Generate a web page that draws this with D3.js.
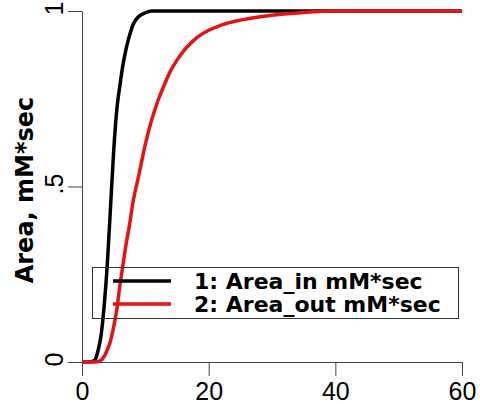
<!DOCTYPE html>
<html>
<head>
<meta charset="utf-8">
<script src="https://cdn.jsdelivr.net/npm/d3@7"></script>
<style>
  body { margin: 0; background: #fff; }
  svg { display: block; font-family: 'DejaVu Sans', sans-serif; }
</style>
</head>
<body>
<svg id="chart" width="480" height="404"></svg>
<script>
// values
const timeIn = [0, 1, 2, 2.5, 3, 3.5, 4, 4.5, 5, 5.5, 6, 6.5, 7, 7.5, 8, 8.5, 9, 10, 11, 12, 15, 20, 30, 40, 50, 60]
const areaIn = [0, 0, 0.005, 0.03, 0.075, 0.16, 0.28, 0.44, 0.6, 0.72, 0.79, 0.85, 0.895, 0.93, 0.958, 0.975, 0.985, 0.995, 1, 1, 1, 1, 1, 1, 1, 1]

const timeOut = [0, 2, 3, 4, 4.5, 5, 5.5, 6, 6.5, 7, 7.5, 8, 9, 10, 11, 12, 13, 14, 15, 16, 17, 18, 20, 22, 25, 30, 35, 40, 50, 60]
const areaOut = [0, 0, 0.005, 0.035, 0.06, 0.1, 0.15, 0.22, 0.28, 0.34, 0.39, 0.45, 0.535, 0.62, 0.69, 0.745, 0.79, 0.83, 0.86, 0.885, 0.905, 0.922, 0.945, 0.96, 0.974, 0.988, 0.996, 1, 1, 1]

const xTicks = [0, 20, 40, 60]
const yTicks = [0, 0.5, 1]
const yTickLabels = ['0', '.5', '1']
const seriesNames = ['1: Area_in mM*sec', '2: Area_out mM*sec']
const seriesColors = ['#000000', '#e31414']
const yTitle = 'Area, mM*sec'

const svg = d3.select('#chart')

const x = d3.scaleLinear().domain([0, 60]).range([82, 462])
const y = d3.scaleLinear().domain([0, 1]).range([362, 11])

// x axis
const gx = svg.append('g')
  .attr('transform', `translate(0,${y(0)})`)
  .call(d3.axisBottom(x).tickValues(xTicks).tickSize(14).tickSizeOuter(0).tickFormat(d3.format('d')))
gx.select('.domain').attr('stroke', '#444')
gx.selectAll('.tick line').attr('stroke', '#444')
gx.selectAll('.tick text')
  .attr('y', 20)
  .attr('dy', '0.71em')
  .attr('fill', '#000')
  .style('font-size', '25px')

// y axis, labels turned on their side
const gy = svg.append('g')
  .attr('transform', `translate(${x(0)},0)`)
  .call(d3.axisLeft(y).tickValues(yTicks).tickSize(14).tickSizeOuter(0).tickFormat((d, i) => yTickLabels[i]))
gy.select('.domain').attr('stroke', '#444')
gy.selectAll('.tick line').attr('stroke', '#444')
gy.selectAll('.tick text')
  .attr('transform', 'rotate(-90)')
  .attr('x', 3)
  .attr('y', -19)
  .attr('dy', 0)
  .attr('text-anchor', 'middle')
  .attr('fill', '#000')
  .style('font-size', '25px')

svg.append('text')
  .attr('transform', 'translate(33,190) rotate(-90)')
  .attr('text-anchor', 'middle')
  .style('font-size', '24px')
  .style('font-weight', 'bold')
  .text(yTitle)

// curves
const line = d3.line()
  .x(d => x(d[0]))
  .y(d => y(d[1]))
  .curve(d3.curveMonotoneX)

const series = [
  d3.zip(timeIn, areaIn),
  d3.zip(timeOut, areaOut)
]

svg.selectAll('path.curve')
  .data(series)
  .enter()
  .append('path')
  .attr('class', 'curve')
  .attr('d', line)
  .attr('fill', 'none')
  .attr('stroke', (d, i) => seriesColors[i])
  .attr('stroke-width', 3.5)
  .attr('stroke-linejoin', 'round')

// legend
const legend = svg.append('g')
legend.append('rect')
  .attr('x', 92.5)
  .attr('y', 267.5)
  .attr('width', 366)
  .attr('height', 51)
  .attr('fill', 'none')
  .attr('stroke', '#333')

const rows = legend.selectAll('g.row')
  .data(seriesNames)
  .enter()
  .append('g')
  .attr('class', 'row')
  .attr('transform', (d, i) => `translate(0,${281 + i * 23})`)

rows.append('line')
  .attr('x1', 113)
  .attr('x2', 171)
  .attr('stroke', (d, i) => seriesColors[i])
  .attr('stroke-width', 3.5)

rows.append('text')
  .attr('x', 194)
  .attr('dy', '0.36em')
  .style('font-size', '22px')
  .style('font-weight', 'bold')
  .text(d => d)
</script>
</body>
</html>
